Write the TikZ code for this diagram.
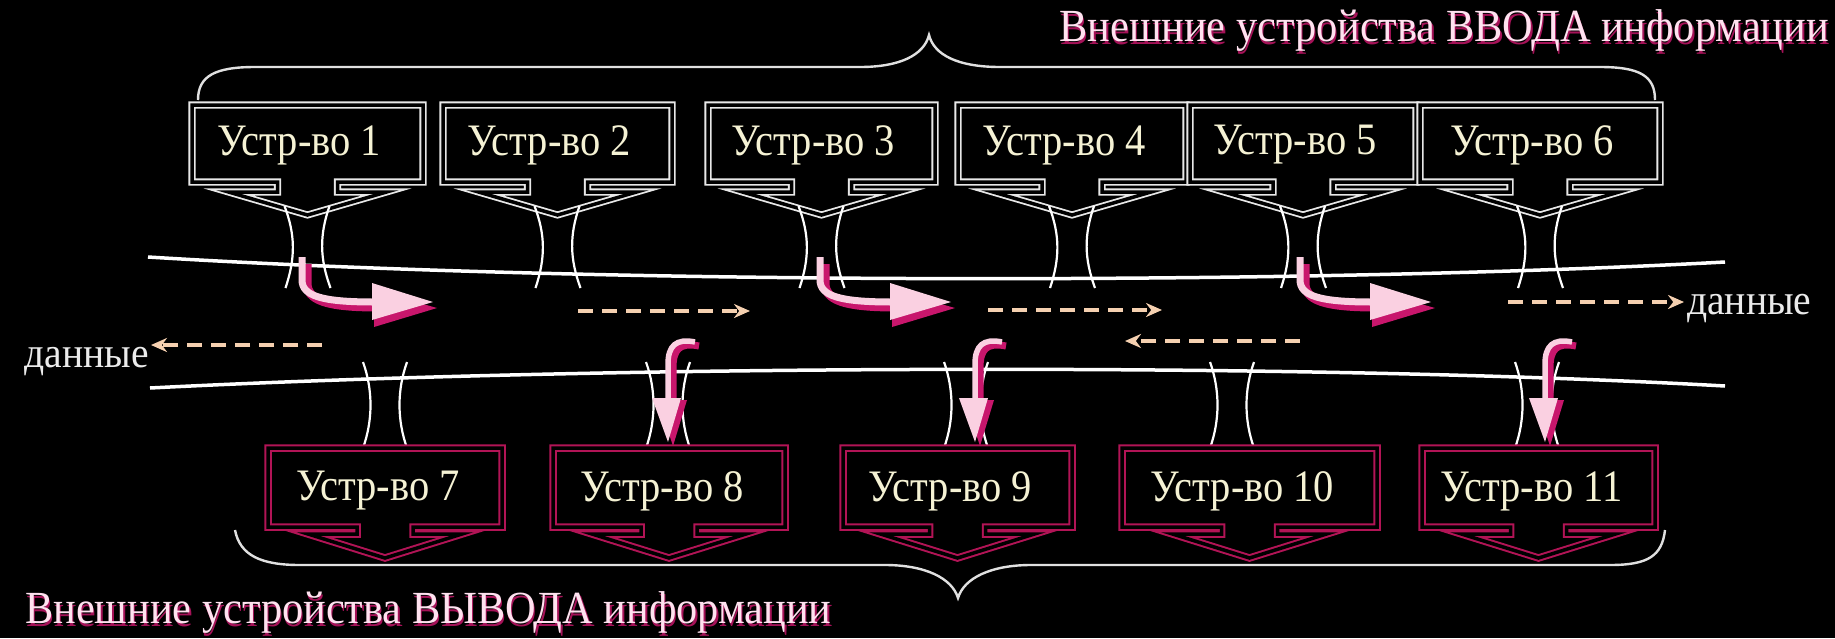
\documentclass[tikz,border=0pt]{standalone}
\usepackage{fontspec}
\setmainfont{Liberation Serif}
\newfontfamily\condlbl{Liberation Serif}[FakeStretch=0.9]
\newfontfamily\condttl{Liberation Serif}[FakeStretch=0.92]
\usetikzlibrary{arrows.meta}
\definecolor{boxwhite}{RGB}{232,232,232}
\definecolor{boxred}{RGB}{178,20,86}
\definecolor{lblcol}{RGB}{245,242,212}
\definecolor{pinklt}{RGB}{250,208,225}
\definecolor{pinksh}{RGB}{200,22,108}
\definecolor{dashcol}{RGB}{245,208,176}
\definecolor{titlecol}{RGB}{255,226,240}
\definecolor{titlesh}{RGB}{165,18,88}
\newcommand\glowtxt[1]{\rlap{\raisebox{-3pt}[0pt][0pt]{\hspace*{1.5pt}\color{titlesh}#1}}#1}
\tikzset{
  inbox/.style={draw=boxwhite, double=black, double distance=3.5pt, line width=1.8pt, line join=miter},
  outbox/.style={draw=boxred, double=black, double distance=3.5pt, line width=2pt, line join=miter},
  tube/.style={draw=white, line width=2.2pt},
  bus/.style={draw=white, line width=3.5pt},
  brace/.style={draw=white!88!black, line width=2.4pt},
  dataarrow/.style={draw=dashcol, line width=3.8pt, dash pattern=on 15pt off 9pt, -{Stealth[length=16pt,width=14pt]}},
  lbl/.style={text=lblcol, font=\condlbl\fontsize{45}{47}\selectfont, inner sep=0pt},
  datalbl/.style={text=white!92!black, font=\condttl\fontsize{43}{45}\selectfont, inner sep=0pt},
  title/.style={text=titlecol, font=\condttl\fontsize{46}{48}\selectfont, inner sep=0pt}
}
\begin{document}
\begin{tikzpicture}[x=1pt,y=-1pt]
\fill[black] (0,0) rectangle (1835,638);
\useasboundingbox (0,0) rectangle (1835,638);

% titles
\node[title, anchor=base east] (tin) at (1829,41) {\glowtxt{Внешние устройства ВВОДА информации}};
\node[title, anchor=base west] (tout) at (25,623) {\glowtxt{Внешние устройства ВЫВОДА информации}};

% braces
\draw[brace] (198,100) .. controls (198,76) and (215,67) .. (255,67) -- (860,67)
  .. controls (900,67) and (924,55) .. (929,35)
  .. controls (934,55) and (958,67) .. (1000,67) -- (1600,67)
  .. controls (1640,67) and (1655,76) .. (1655,100);
\draw[brace] (235,530) .. controls (240,556) and (262,565) .. (300,565) -- (885,565)
  .. controls (925,565) and (952,578) .. (958,598)
  .. controls (964,578) and (991,565) .. (1031,565) -- (1610,565)
  .. controls (1648,565) and (1662,556) .. (1665,530);

% bus
\draw[bus] (148,257) .. controls (600,285) and (1300,285) .. (1725,262);
\draw[bus] (150,388) .. controls (600,365) and (1300,362) .. (1725,386);

% input devices
\foreach \L/\R/\n in {192/423/1,443/672/2,708/935/3,958/1186/4,1190/1416/5,1420/1660/6}{
  \pgfmathsetmacro\c{(\L+\R)/2}
  \draw[inbox] (\L,105) -- (\R,105) -- (\R,182) -- (\c+30,182) -- (\c+30,192) -- (\c+79,192)
    -- (\c,215) -- (\c-79,192) -- (\c-30,192) -- (\c-30,182) -- (\L,182) -- cycle;
  \node[lbl] (d\n) at (\c-8,145) {Устр-во \n};
  \draw[tube] (\c-23,206) .. controls (\c-12,235) and (\c-12,258) .. (\c-22,288);
  \draw[tube] (\c+22,206) .. controls (\c+12,235) and (\c+12,258) .. (\c+23,288);
}

% output devices
\foreach \L/\R/\n/\tc in {268/502/7/385,553/785/8/668,843/1072/9/966,1122/1377/10/1232,1422/1655/11/1537}{
  \pgfmathsetmacro\c{(\L+\R)/2}
  \draw[tube] (\tc-22,362) .. controls (\tc-12,390) and (\tc-12,420) .. (\tc-22,448);
  \draw[tube] (\tc+22,362) .. controls (\tc+12,390) and (\tc+12,420) .. (\tc+22,448);
  \draw[outbox] (\L,448) -- (\R,448) -- (\R,527) -- (\c+28,527) -- (\c+28,534) -- (\c+77,534)
    -- (\c,558) -- (\c-77,534) -- (\c-28,534) -- (\c-28,527) -- (\L,527) -- cycle;
  \node[lbl] (d\n) at (\c-7,491) {Устр-во \n};
}

% input flow arrows
\foreach \s in {302,820,1300}{
  \draw[pinksh, line width=9pt] (\s+5,264) -- (\s+5,283) .. controls (\s+5,300) and (\s+24,307) .. (\s+76,307);
  \fill[pinksh] (\s+72,290) -- (\s+135,308) -- (\s+72,327) -- cycle;
  \draw[pinklt, line width=7pt] (\s,257) -- (\s,280) .. controls (\s,296) and (\s+20,302) .. (\s+72,302);
  \fill[pinklt] (\s+70,283) -- (\s+131,302) -- (\s+70,320) -- cycle;
}
% output flow arrows
\foreach \t in {668,975,1545}{
  \draw[pinksh, line width=7pt] (\t+31,346) .. controls (\t+11,342) and (\t+5,350) .. (\t+5,368) -- (\t+5,400);
  \fill[pinksh] (\t-10,400) -- (\t+19,400) -- (\t+5,446) -- cycle;
  \draw[pinklt, line width=5.5pt] (\t+27,342) .. controls (\t+8,338) and (\t,346) .. (\t,364) -- (\t,398);
  \fill[pinklt] (\t-16,398) -- (\t+13,398) -- (\t,442) -- cycle;
}

% data arrows
\node[datalbl, anchor=base west] (dR) at (1687,314) {данные};
\node[datalbl, anchor=base east] (dL) at (149,367) {данные};
\coordinate (a1) at (578,311); \coordinate (a2) at (750,311);
\coordinate (b1) at (988,310); \coordinate (b2) at (1162,310);
\coordinate (c1) at (1508,302); \coordinate (c2) at (1684,302);
\coordinate (e1) at (1300,341); \coordinate (e2) at (1125,341);
\coordinate (f1) at (322,345); \coordinate (f2) at (151,345);
\draw[dataarrow] (a1) -- (a2);
\draw[dataarrow] (b1) -- (b2);
\draw[dataarrow] (c1) -- (c2);
\draw[dataarrow] (e1) -- (e2);
\draw[dataarrow] (f1) -- (f2);
\end{tikzpicture}
\end{document}
